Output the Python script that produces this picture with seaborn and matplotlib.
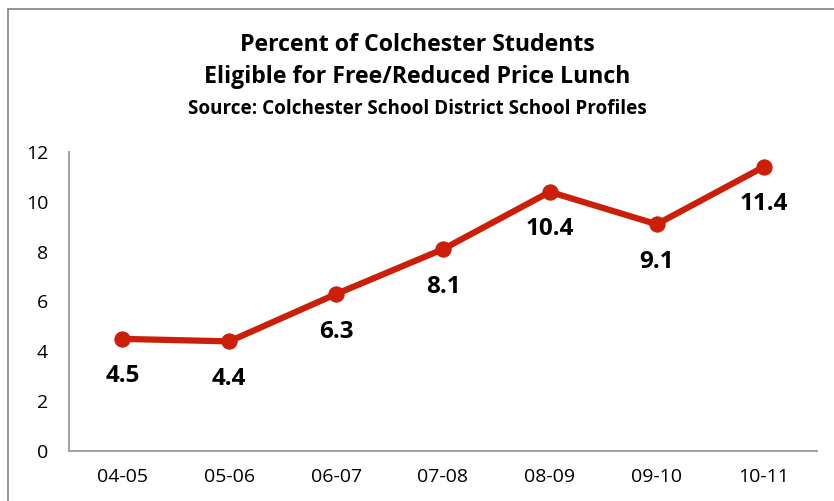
import matplotlib
matplotlib.use("Agg")
import matplotlib.pyplot as plt
import seaborn as sns
import pandas as pd
from matplotlib.patches import Rectangle

years = ["04-05", "05-06", "06-07", "07-08", "08-09", "09-10", "10-11"]
values = [4.5, 4.4, 6.3, 8.1, 10.4, 9.1, 11.4]
y_ticks = [0, 2, 4, 6, 8, 10, 12]

sns.set_style("white")
plt.rcParams['font.family'] = ['Open Sans', 'DejaVu Sans']

W, H = 834, 501
fig = plt.figure(figsize=(W / 100, H / 100), dpi=100)
ax = fig.add_axes([69 / W, 1 - 451 / H, (817 - 69) / W, (451 - 152) / H])

df = pd.DataFrame({"pos": range(len(years)), "value": values})
color = "#CC1F0A"
sns.lineplot(data=df, x="pos", y="value", ax=ax, color=color, linewidth=4.5,
             marker="o", markersize=11, markeredgecolor=color,
             markerfacecolor=color)

for i, v in enumerate(values):
    ax.annotate(f"{v}", (i, v), xytext=(0, -27), textcoords="offset points",
                ha="center", va="center", fontsize=17.5, fontweight="bold",
                color="black")

ax.set_xlim(-0.5, len(years) - 0.5)
ax.set_ylim(0, 12)
ax.set_xticks(range(len(years)))
ax.set_xticklabels(years)
ax.set_yticks(y_ticks)
ax.set_yticklabels([str(t) for t in y_ticks])
ax.tick_params(axis="both", length=0, labelsize=14, labelcolor="black")
ax.tick_params(axis="y", pad=15)
ax.tick_params(axis="x", pad=12)
ax.set_xlabel("")
ax.set_ylabel("")
for s in ["top", "right"]:
    ax.spines[s].set_visible(False)
for s in ["left", "bottom"]:
    ax.spines[s].set_color("#A0A0A0")
    ax.spines[s].set_linewidth(1.4)

fig.text(0.5, 1 - 45 / H, "Percent of Colchester Students", ha="center",
         va="center", fontsize=16.7, fontweight="bold", color="black")
fig.text(0.5, 1 - 77 / H, "Eligible for Free/Reduced Price Lunch", ha="center",
         va="center", fontsize=16.7, fontweight="bold", color="black")
fig.text(0.5, 1 - 109 / H, "Source: Colchester School District School Profiles",
         ha="center", va="center", fontsize=13.6, fontweight="bold", color="black")

fig.patches.append(Rectangle((8 / W, -0.1), 1.2, 1 - 9 / H + 0.1,
                             transform=fig.transFigure, fill=False,
                             edgecolor="#8C8C8C", linewidth=1.3))

fig.savefig("out.png", dpi=100)
